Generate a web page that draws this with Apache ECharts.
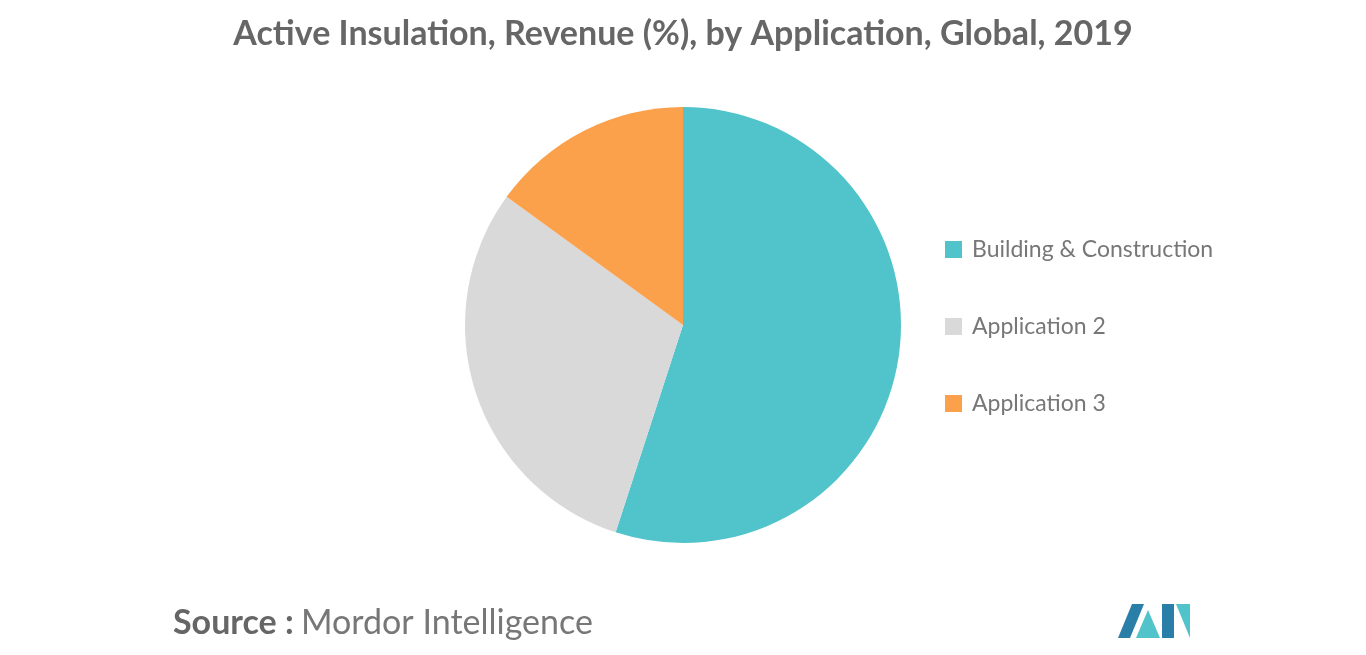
<!DOCTYPE html>
<html>
<head>
<meta charset="utf-8">
<script src="https://cdn.jsdelivr.net/npm/echarts@6/dist/echarts.min.js"></script>
<style>
  html, body { margin: 0; padding: 0; background: #fff; }
  #chart { width: 1366px; height: 655px; }
</style>
</head>
<body>
<div id="chart"></div>
<script>
const categories = ['Building & Construction', 'Application 2', 'Application 3']
const values = [55, 30, 15]
const colors = ['#50C4CA', '#D9D9D9', '#FBA04B']

const chart = echarts.init(document.getElementById('chart'))

chart.setOption({
  backgroundColor: '#fff',
  title: {
    text: 'Active Insulation, Revenue (%), by Application, Global, 2019',
    left: 'center',
    top: 12,
    textStyle: { color: '#666', fontSize: 34, fontWeight: 'bold', fontFamily: 'Lato' }
  },
  legend: {
    orient: 'vertical',
    left: 940,
    top: 233,
    itemGap: 54,
    itemWidth: 17,
    itemHeight: 17,
    icon: 'rect',
    textStyle: { color: '#777', fontSize: 23, fontFamily: 'Lato', padding: [0, 0, 0, 5] },
    data: categories
  },
  series: [{
    type: 'pie',
    center: [683, 325],
    radius: [0, 218],
    startAngle: 90,
    clockwise: true,
    label: { show: false },
    labelLine: { show: false },
    silent: true,
    data: categories.map((name, i) => ({ name, value: values[i], itemStyle: { color: colors[i] } }))
  }],
  graphic: [
    {
      type: 'text', left: 173, top: 606,
      style: { text: 'Source :', fill: '#666', font: 'bold 34px Lato' }
    },
    {
      type: 'text', left: 301, top: 606,
      style: { text: 'Mordor Intelligence', fill: '#777', font: '34px Lato' }
    },
    {
      type: 'group', left: 1118, top: 604,
      children: [
        { type: 'polygon', shape: { points: [[0, 34], [14, 0], [26, 0], [12, 34]] }, style: { fill: '#2A7FA8' } },
        { type: 'polygon', shape: { points: [[18, 34], [30, 6], [42, 34]] }, style: { fill: '#50C4CA' } },
        { type: 'polygon', shape: { points: [[44, 34], [44, 0], [56, 0], [56, 34]] }, style: { fill: '#2A7FA8' } },
        { type: 'polygon', shape: { points: [[58, 0], [72, 34], [72, 0]] }, style: { fill: '#50C4CA' } }
      ]
    }
  ]
})
</script>
</body>
</html>
